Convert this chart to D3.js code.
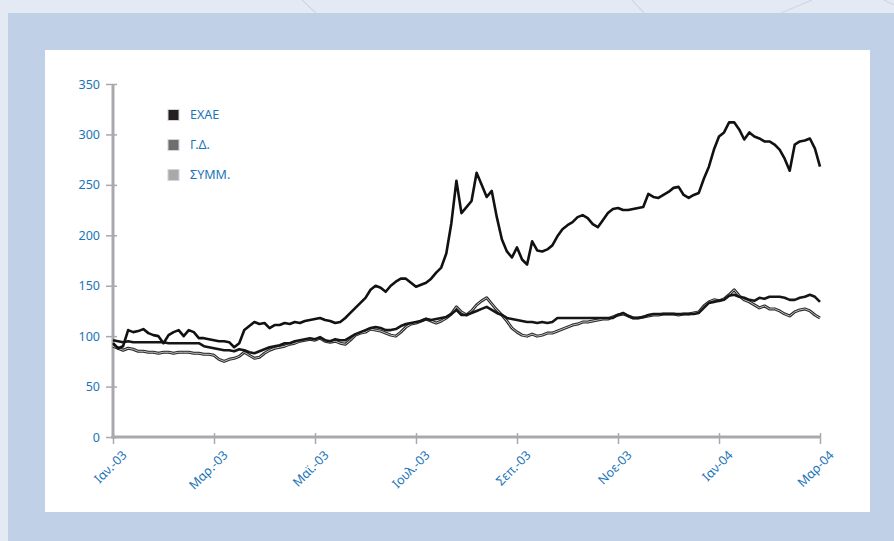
<!DOCTYPE html>
<html>
<head>
<meta charset="utf-8">
<script src="https://cdn.jsdelivr.net/npm/d3@7/dist/d3.min.js"></script>
<style>
  html, body { margin: 0; padding: 0; background: #e4eaf4; }
  svg { display: block; }
  text { font-family: "Noto Sans", "DejaVu Sans", sans-serif; }
</style>
</head>
<body>
<svg id="chart" width="894" height="541"></svg>
<script>
// ---- data ----
const tickLabels = ["Ιαν.-03", "Μαρ.-03", "Μαϊ.-03", "Ιουλ.-03", "Σεπ.-03", "Νοε-03", "Ιαν-04", "Μαρ-04"];
const tickMonths = [0, 2, 4, 6, 8, 10, 12, 14];
const yTicks = [0, 50, 100, 150, 200, 250, 300, 350];
const seriesNames = ["ΕΧΑΕ", "Γ.Δ.", "ΣΥΜΜ."];
const legendColors = ["#231f20", "#6d6e70", "#a7a9ac"];
// sample positions: one every 0.1 month from Jan-03 (0) to Mar-04 (14)
const monthStep = 0.1;

const exae = [
  93, 88, 90, 106, 104, 105, 107, 103, 101, 100,
  93, 101, 104, 106, 100, 106, 104, 98, 98, 97,
  96, 95, 95, 94, 89, 93, 106, 110, 114, 112,
  113, 108, 111, 111, 113, 112, 114, 113, 115, 116,
  117, 118, 116, 115, 113, 114, 118, 123, 128, 133,
  138, 146, 150, 148, 144, 150, 154, 157, 157, 153,
  149, 151, 153, 157, 163, 168, 182, 212, 254, 222,
  228, 234, 262, 250, 238, 244, 218, 196, 184, 178,
  188, 176, 171, 194, 185, 184, 186, 190, 199, 206,
  210, 213, 218, 220, 217, 211, 208, 215, 222, 226,
  227, 225, 225, 226, 227, 228, 241, 238, 237, 240,
  243, 247, 248, 240, 237, 240, 242, 256, 268, 285,
  298, 302, 312, 312, 305, 295, 302, 298, 296, 293,
  293, 290, 285, 276, 264, 290, 293, 294, 296, 286,
  268
];
const gd = [
  96, 95, 94, 95, 94, 94, 94, 94, 94, 94,
  94, 93, 93, 93, 93, 93, 93, 93, 90, 89,
  88, 87, 86, 86, 85, 87, 86, 84, 83, 85,
  87, 89, 90, 91, 93, 93, 95, 96, 97, 98,
  97, 99, 96, 95, 97, 96, 96, 99, 102, 104,
  106, 108, 109, 108, 106, 106, 107, 110, 112, 113,
  114, 115, 117, 116, 117, 118, 119, 122, 126, 121,
  121, 123, 125, 127, 129, 126, 123, 121, 118, 117,
  116, 115, 114, 114, 113, 114, 113, 114, 118, 118,
  118, 118, 118, 118, 118, 118, 118, 118, 118, 118,
  121, 123, 120, 118, 118, 119, 121, 122, 122, 122,
  122, 122, 122, 122, 122, 122, 123, 128, 133, 134,
  135, 136, 140, 141, 139, 138, 136, 135, 138, 137,
  139, 139, 139, 138, 136, 136, 138, 139, 141, 139,
  134
];
const symm = [
  90, 88, 86, 88, 87, 85, 85, 84, 84, 83,
  84, 84, 83, 84, 84, 84, 83, 83, 82, 82,
  81, 77, 75, 77, 78, 80, 84, 81, 78, 79,
  83, 86, 88, 89, 90, 92, 93, 95, 96, 97,
  96, 98, 95, 94, 95, 93, 92, 96, 101, 103,
  104, 107, 106, 105, 103, 101, 100, 104, 109, 112,
  113, 115, 117, 115, 113, 115, 118, 122, 129, 124,
  121, 125, 131, 135, 138, 132, 126, 121, 115, 108,
  104, 101, 100, 102, 100, 101, 103, 103, 105, 107,
  109, 111, 112, 114, 114, 115, 116, 117, 117, 119,
  121, 122, 120, 118, 118, 119, 120, 121, 121, 122,
  122, 122, 121, 122, 122, 123, 124, 130, 134, 136,
  135, 137, 141, 146, 140, 136, 134, 131, 128, 130,
  127, 127, 125, 122, 120, 124, 126, 127, 125, 121,
  118
];

// ---- drawing ----
const svg = d3.select("#chart");
const W = 894, H = 541;
const FONT = "'Noto Sans', 'DejaVu Sans', sans-serif";

// background
svg.append("rect").attr("width", W).attr("height", H).attr("fill", "#e4eaf4");
const deco = [[302,0,316,13],[632,0,644,13],[812,0,781,13],[884,0,894,5]];
svg.selectAll("line.deco").data(deco).join("line")
  .attr("x1", d => d[0]).attr("y1", d => d[1]).attr("x2", d => d[2]).attr("y2", d => d[3])
  .attr("stroke", "#cfd7e6").attr("stroke-width", 1.2);
svg.append("rect").attr("x", 8).attr("y", 13).attr("width", W - 8).attr("height", H - 13).attr("fill", "#c0d0e6");
svg.append("rect").attr("x", 45).attr("y", 50).attr("width", 825).attr("height", 462).attr("fill", "#ffffff");

const x = d3.scaleLinear().domain([0, 14]).range([113, 820]);
const y = d3.scaleLinear().domain([0, 350]).range([437, 84]);

const axisColor = "#a9a9ad";
const labelColor = "#1b74b8";

// y axis
const yAxis = d3.axisLeft(y).tickValues(yTicks).tickSize(0).tickPadding(13);
const gy = svg.append("g").attr("transform", `translate(${x(0)},0)`).call(yAxis);
gy.select(".domain").remove();
gy.selectAll("text").attr("fill", labelColor).attr("font-size", 12.5).attr("font-family", FONT);
gy.selectAll(".tick").append("line").attr("x1", -7).attr("x2", 4)
  .attr("stroke", axisColor).attr("stroke-width", 1.5);

// x axis
const xAxis = d3.axisBottom(x).tickValues(tickMonths).tickFormat((d, i) => tickLabels[i]).tickSize(0);
const gx = svg.append("g").attr("transform", `translate(0,${y(0)})`).call(xAxis);
gx.select(".domain").remove();
gx.selectAll(".tick").append("line").attr("y1", -4).attr("y2", 7)
  .attr("stroke", axisColor).attr("stroke-width", 1.5);
gx.selectAll("text")
  .attr("fill", labelColor).attr("font-size", 12.5).attr("font-family", FONT)
  .attr("text-anchor", "end").attr("dy", null).attr("y", 0)
  .attr("transform", "translate(14,19) rotate(-45)");

// axis lines
svg.append("line").attr("x1", x(0)).attr("x2", x(0)).attr("y1", y(350)).attr("y2", y(0) + 1.5)
  .attr("stroke", axisColor).attr("stroke-width", 3);
svg.append("line").attr("x1", x(0) - 1.5).attr("x2", x(14)).attr("y1", y(0)).attr("y2", y(0))
  .attr("stroke", axisColor).attr("stroke-width", 3);

// lines
const line = d3.line().x((d, i) => x(i * monthStep)).y(d => y(d));
svg.append("path").datum(symm).attr("d", line).attr("fill", "none")
  .attr("stroke", "#2a2a2a").attr("stroke-width", 3).attr("stroke-linejoin", "round");
svg.append("path").datum(symm).attr("d", line).attr("fill", "none")
  .attr("stroke", "#c4c4c4").attr("stroke-width", 1).attr("stroke-linejoin", "round");
svg.append("path").datum(gd).attr("d", line).attr("fill", "none")
  .attr("stroke", "#161616").attr("stroke-width", 2.6).attr("stroke-linejoin", "round");
svg.append("path").datum(exae).attr("d", line).attr("fill", "none")
  .attr("stroke", "#111111").attr("stroke-width", 2.6).attr("stroke-linejoin", "round");

// legend
const lg = svg.append("g");
seriesNames.forEach((name, i) => {
  const cy = 115 + i * 30;
  lg.append("rect").attr("x", 168).attr("y", cy - 5.5).attr("width", 11).attr("height", 11)
    .attr("fill", legendColors[i]).attr("stroke", "#d4d4d4").attr("stroke-width", 1);
  lg.append("text").attr("x", 190).attr("y", cy).attr("dy", "0.35em")
    .attr("font-size", 12.5).attr("font-family", FONT).attr("fill", labelColor).text(name);
});
</script>
</body>
</html>
